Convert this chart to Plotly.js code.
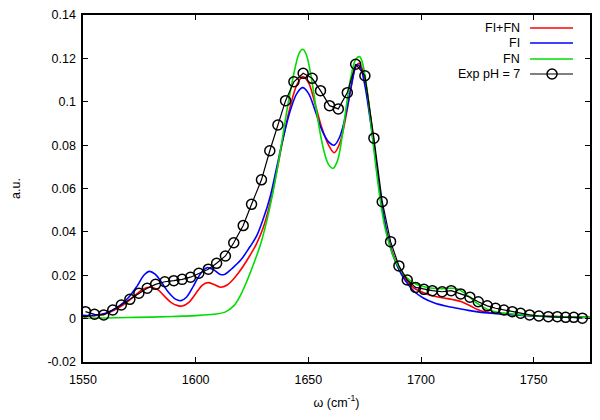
<!DOCTYPE html>
<html>
<head>
<meta charset="utf-8">
<script src="https://cdn.plot.ly/plotly-3.0.1.min.js"></script>
<style>html,body{margin:0;padding:0;background:#fff;}#chart{width:600px;height:420px;}</style>
</head>
<body>
<div id="chart"></div>
<script>
// FI+FN (red)
const fifnX = [1550,1555,1560,1565,1570,1574,1577,1580,1583,1586,1589,1592,1594,1597,1600,1603,1605.5,1608,1611,1614,1617,1620,1624,1627,1630,1633,1636,1639,1642,1645,1647.5,1650,1653,1656,1659,1661.5,1664,1667,1669,1671,1672.5,1674,1676,1678,1680,1682,1684,1686,1688,1691,1694,1697,1701,1705,1710,1714,1718,1722,1725,1729,1733,1740,1750,1760,1775];
const fifnY = [0.0012,0.0013,0.0022,0.0045,0.0080,0.0115,0.0138,0.0145,0.0135,0.0105,0.0075,0.0060,0.0058,0.0075,0.0115,0.0155,0.0166,0.0158,0.0145,0.0155,0.0185,0.0225,0.0290,0.0345,0.0420,0.0530,0.0680,0.0840,0.0980,0.1080,0.1116,0.1090,0.0990,0.0880,0.0800,0.0765,0.0810,0.0950,0.1070,0.1160,0.1177,0.1150,0.1050,0.0900,0.0730,0.0570,0.0440,0.0350,0.0285,0.0215,0.0170,0.0140,0.0120,0.0105,0.0095,0.0088,0.0078,0.0058,0.0042,0.0030,0.0025,0.0019,0.0013,0.0009,0.0006];
// FI (blue)
const fiX = [1550,1555,1560,1565,1570,1574,1577,1579.5,1582,1585,1588,1591,1593.5,1596,1599,1602,1605,1608,1611,1613,1616,1620,1624,1627,1630,1633,1636,1639,1642,1645,1647.5,1650,1653,1656,1659,1661.5,1664,1667,1669,1671.5,1673,1675,1677,1679,1681,1683,1685,1687,1690,1693,1697,1701,1706,1711,1716,1721,1726,1731,1740,1750,1760,1775];
const fiY = [0.0015,0.0015,0.0025,0.0050,0.0095,0.0150,0.0200,0.0218,0.0205,0.0165,0.0120,0.0090,0.0083,0.0100,0.0150,0.0205,0.0235,0.0225,0.0203,0.0205,0.0230,0.0270,0.0330,0.0380,0.0460,0.0560,0.0700,0.0840,0.0960,0.1040,0.1065,0.1040,0.0960,0.0870,0.0815,0.0800,0.0840,0.0960,0.1070,0.1170,0.1160,0.1080,0.0950,0.0800,0.0640,0.0500,0.0390,0.0310,0.0230,0.0175,0.0125,0.0095,0.0072,0.0058,0.0048,0.0038,0.0030,0.0025,0.0018,0.0012,0.0008,0.0005];
// FN (green)
const fnX = [1550,1560,1570,1580,1590,1600,1608,1613,1617,1620,1623,1626,1629,1632,1635,1638,1641,1644,1646,1647.5,1649,1651,1653,1655,1657,1659,1661,1663,1665,1667,1669,1671,1672.7,1674,1676,1678,1680,1682,1684,1686,1688,1690,1693,1697,1701,1705,1709,1713,1716,1719,1722,1725,1729,1733,1740,1750,1760,1775];
const fnY = [0.0002,0.0003,0.0005,0.0007,0.0010,0.0014,0.0020,0.0030,0.0060,0.0110,0.0180,0.0260,0.0350,0.0470,0.0620,0.0800,0.0990,0.1150,0.1225,0.1242,0.1220,0.1130,0.1000,0.0870,0.0770,0.0710,0.0693,0.0730,0.0840,0.0990,0.1120,0.1195,0.1208,0.1180,0.1060,0.0880,0.0700,0.0540,0.0420,0.0340,0.0280,0.0240,0.0195,0.0163,0.0148,0.0140,0.0138,0.0140,0.0138,0.0120,0.0095,0.0070,0.0045,0.0032,0.0022,0.0013,0.0009,0.0006];
// Exp pH = 7 (black circles)
const expX = [1551.1,1555.1,1559.2,1563.2,1567.0,1570.8,1574.8,1578.5,1582.2,1586.3,1590.3,1594.0,1597.7,1601.4,1605.6,1609.3,1613.2,1616.9,1621.1,1624.8,1629.2,1632.9,1636.5,1639.9,1643.6,1647.7,1651.7,1655.4,1659.4,1663.3,1667.3,1671.0,1675.1,1679.1,1682.8,1686.5,1690.2,1693.9,1697.6,1701.3,1705.0,1709.4,1713.4,1717.6,1721.7,1725.4,1729.4,1733.1,1736.8,1740.5,1744.2,1748.2,1752.3,1756.5,1760.5,1764.2,1767.8,1771.6];
const expY = [0.0032,0.0020,0.0017,0.0040,0.0063,0.0089,0.0117,0.0140,0.0158,0.0170,0.0175,0.0181,0.0191,0.0209,0.0228,0.0255,0.0289,0.0350,0.0429,0.0527,0.0640,0.0774,0.0893,0.1005,0.1092,0.1131,0.1108,0.1051,0.0982,0.0967,0.1042,0.1173,0.1120,0.0832,0.0539,0.0355,0.0243,0.0178,0.0144,0.0135,0.0129,0.0124,0.0129,0.0114,0.0099,0.0078,0.0059,0.0048,0.0040,0.0032,0.0025,0.0017,0.0012,0.0009,0.0009,0.0006,0.0006,0.0002];

const xTickVals = [1550,1600,1650,1700,1750];
const yTickVals = [-0.02,0,0.02,0.04,0.06,0.08,0.1,0.12,0.14];
const yTickText = ["-0.02","0","0.02","0.04","0.06","0.08","0.1","0.12","0.14"];
const legendNames = ["FI+FN","FI","FN","Exp pH = 7"];
const legendColors = ["#ff0000","#0000ff","#00dd00","#000000"];

const font = {family: "Liberation Sans, Arial, sans-serif", size: 12.5, color: "#000"};

const traces = [
  {x: fifnX, y: fifnY, mode: "lines", line: {color: legendColors[0], width: 1.6, shape: "spline"}, name: legendNames[0]},
  {x: fiX, y: fiY, mode: "lines", line: {color: legendColors[1], width: 1.6, shape: "spline"}, name: legendNames[1]},
  {x: fnX, y: fnY, mode: "lines", line: {color: legendColors[2], width: 1.6, shape: "spline"}, name: legendNames[2]},
  {x: expX, y: expY, mode: "lines+markers", line: {color: "#000", width: 1.2},
   marker: {symbol: "circle-open", size: 10, color: "#000", line: {width: 1.5, color: "#000"}}, name: legendNames[3]}
];

function px2paperX(px) { return (px - 82.5) / 507.5; }
function py2paperY(py) { return (362 - py) / 347; }

// custom legend (text right-aligned, sample on the right)
const legRowsY = [28, 43, 59, 74];
const annotations = [];
const shapes = [];
legendNames.forEach((n, i) => {
  annotations.push({xref: "paper", yref: "paper", x: px2paperX(522), y: py2paperY(legRowsY[i]), text: n,
    showarrow: false, xanchor: "right", yanchor: "middle", font: font});
  shapes.push({type: "line", xref: "paper", yref: "paper",
    x0: px2paperX(530), x1: px2paperX(573), y0: py2paperY(legRowsY[i]), y1: py2paperY(legRowsY[i]),
    line: {color: legendColors[i], width: i === 3 ? 1.2 : 1.6}});
});
shapes.push({type: "circle", xref: "paper", yref: "paper",
  x0: px2paperX(547), x1: px2paperX(557), y0: py2paperY(79), y1: py2paperY(69),
  line: {color: "#000", width: 1.5}, fillcolor: "rgba(0,0,0,0)"});

const axisCommon = {showline: true, mirror: "ticks", linecolor: "#000", linewidth: 1.6,
  ticks: "inside", ticklen: 5, tickcolor: "#000", tickwidth: 1, showgrid: false, zeroline: false,
  tickfont: font};

const layout = {
  width: 600, height: 420,
  margin: {l: 82.5, r: 10, t: 15, b: 58},
  paper_bgcolor: "#fff", plot_bgcolor: "#fff",
  showlegend: false,
  font: font,
  xaxis: Object.assign({}, axisCommon, {range: [1550, 1775], tickvals: xTickVals, ticklabelstandoff: 5,
    title: {text: "ω (cm<sup>-1</sup>)", font: font, standoff: 12}}),
  yaxis: Object.assign({}, axisCommon, {range: [-0.02, 0.14], tickvals: yTickVals, ticktext: yTickText, ticklabelstandoff: 3,
    title: {text: "a.u.", font: font, standoff: 24}}),
  annotations: annotations,
  shapes: shapes
};

Plotly.newPlot("chart", traces, layout, {displayModeBar: false, staticPlot: true});
</script>
</body>
</html>
